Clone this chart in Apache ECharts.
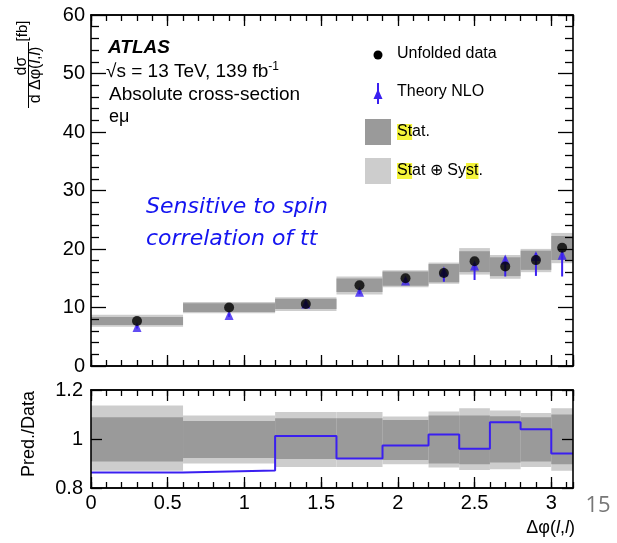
<!DOCTYPE html>
<html>
<head>
<meta charset="utf-8">
<script src="https://cdn.jsdelivr.net/npm/echarts@6/dist/echarts.min.js"></script>
<style>
html,body{margin:0;padding:0;background:#fff;}
#c{width:617px;height:543px;}
</style>
</head>
<body>
<div id="c"></div>
<script>
// ---- Data ----
const binEdges = [0, 0.6, 1.2, 1.6, 1.9, 2.2, 2.4, 2.6, 2.8, 3.0, Math.PI];
const unfoldedData = [7.7, 10.0, 10.6, 13.8, 15.0, 15.9, 17.9, 17.0, 18.1, 20.2];
const theoryNLO = [6.65, 8.7, 10.7, 12.7, 14.6, 16.2, 17.2, 18.2, 18.8, 19.0];
const theoryLow = [6.4, 8.4, 10.3, 12.3, 14.2, 14.4, 14.7, 15.3, 15.4, 15.3];
const theoryHigh = [6.9, 9.0, 11.0, 13.0, 15.0, 16.5, 17.6, 18.7, 19.3, 19.6];
const ratioPred = [0.863, 0.871, 1.012, 0.920, 0.973, 1.018, 0.960, 1.068, 1.040, 0.941];
const statLow = [0.908, 0.922, 0.918, 0.918, 0.914, 0.900, 0.897, 0.904, 0.908, 0.897];
const statHigh = [1.089, 1.073, 1.085, 1.085, 1.078, 1.096, 1.096, 1.093, 1.089, 1.100];
const totLow = [0.870, 0.900, 0.886, 0.886, 0.897, 0.884, 0.873, 0.877, 0.886, 0.870];
const totHigh = [1.137, 1.096, 1.110, 1.110, 1.092, 1.112, 1.126, 1.116, 1.106, 1.126];
const topYTicks = [0, 60, 10];      // min, max, interval
const ratioYTicks = [0.8, 1.2, 0.2];

// ---- derived tables ----
const nb = unfoldedData.length;
const idx = Array.from({length: nb}, (_, i) => i);
const centers = idx.map(i => (binEdges[i] + binEdges[i + 1]) / 2);
const topTot = idx.map(i => [binEdges[i], binEdges[i + 1], unfoldedData[i] * totLow[i], unfoldedData[i] * totHigh[i]]);
const topStat = idx.map(i => [binEdges[i], binEdges[i + 1], unfoldedData[i] * statLow[i], unfoldedData[i] * statHigh[i]]);
const ratTot = idx.map(i => [binEdges[i], binEdges[i + 1], totLow[i], totHigh[i]]);
const ratStat = idx.map(i => [binEdges[i], binEdges[i + 1], statLow[i], statHigh[i]]);
const theoryBars = idx.map(i => [centers[i], theoryLow[i], theoryHigh[i]]);
const stepLine = idx.map(i => [binEdges[i], ratioPred[i]]).concat([[binEdges[nb], ratioPred[nb - 1]]]);

const FONT = 'Liberation Sans, Arial, Helvetica, sans-serif';
const BLUE = '#3a1ff0';

function rectItem(color) {
  return function (params, api) {
    const p0 = api.coord([api.value(0), api.value(3)]);
    const p1 = api.coord([api.value(1), api.value(2)]);
    const shape = echarts.graphic.clipRectByRect(
      {x: p0[0], y: p0[1], width: p1[0] - p0[0], height: p1[1] - p0[1]},
      {x: params.coordSys.x, y: params.coordSys.y, width: params.coordSys.width, height: params.coordSys.height});
    return shape && {type: 'rect', shape: shape, style: {fill: color}};
  };
}

const tickStyle = {color: '#000', width: 1.3};
function xAx(grid, pos, interval, len, labels) {
  return {
    type: 'value', gridIndex: grid, position: pos, min: 0, max: Math.PI, interval: interval, z: 10,
    axisLine: {show: true, onZero: false, lineStyle: {color: '#000', width: 1.6}},
    axisTick: {show: true, inside: true, length: len, lineStyle: tickStyle},
    axisLabel: labels ? {show: true, color: '#000', fontFamily: FONT, fontSize: 20, margin: 5,
      showMinLabel: true, showMaxLabel: false, formatter: v => String(+v.toFixed(1))} : {show: false},
    splitLine: {show: false}, minorTick: {show: false}
  };
}

const gridRects = {
  top: {left: 91, top: 15, width: 482, height: 351},
  bot: {left: 91, top: 390, width: 482, height: 98}
};
function grid(r) { return Object.assign({containLabel: false, outerBoundsMode: 'none', show: false}, r); }

const option = {
  animation: false,
  backgroundColor: '#fff',
  grid: [grid(gridRects.top), grid(gridRects.top), grid(gridRects.bot), grid(gridRects.bot)],
  xAxis: [
    xAx(0, 'bottom', 0.5, 11, false),
    xAx(0, 'top', 0.5, 11, false),
    xAx(1, 'bottom', 0.1, 6, false),
    xAx(1, 'top', 0.1, 6, false),
    xAx(2, 'bottom', 0.5, 11, true),
    xAx(2, 'top', 0.5, 11, false),
    xAx(3, 'bottom', 0.1, 6, false),
    xAx(3, 'top', 0.1, 6, false)
  ],
  yAxis: [
    {type: 'value', gridIndex: 0, position: 'left', min: topYTicks[0], max: topYTicks[1], interval: topYTicks[2], z: 10,
     axisLine: {show: true, onZero: false, lineStyle: {color: '#000', width: 1.6}},
     axisTick: {show: true, inside: true, length: 15, lineStyle: tickStyle},
     minorTick: {show: true, splitNumber: 5, length: 8, lineStyle: tickStyle},
     axisLabel: {color: '#000', fontFamily: FONT, fontSize: 20, margin: 6},
     splitLine: {show: false}, minorSplitLine: {show: false}},
    {type: 'value', gridIndex: 0, position: 'right', min: topYTicks[0], max: topYTicks[1], interval: topYTicks[2], z: 10,
     axisLine: {show: true, onZero: false, lineStyle: {color: '#000', width: 1.6}},
     axisTick: {show: true, inside: true, length: 15, lineStyle: tickStyle},
     minorTick: {show: true, splitNumber: 5, length: 8, lineStyle: tickStyle},
     axisLabel: {show: false}, splitLine: {show: false}},
    {type: 'value', gridIndex: 1, min: topYTicks[0], max: topYTicks[1], show: false},
    {type: 'value', gridIndex: 2, position: 'left', min: ratioYTicks[0], max: ratioYTicks[1], interval: ratioYTicks[2], z: 10,
     axisLine: {show: true, onZero: false, lineStyle: {color: '#000', width: 1.6}},
     axisTick: {show: true, inside: true, length: 11, lineStyle: tickStyle},
     axisLabel: {color: '#000', fontFamily: FONT, fontSize: 20, margin: 8,
       formatter: v => Math.abs(v - 1) < 1e-6 ? '1' : (+v).toFixed(1)},
     splitLine: {show: false}},
    {type: 'value', gridIndex: 2, position: 'right', min: ratioYTicks[0], max: ratioYTicks[1], interval: ratioYTicks[2], z: 10,
     axisLine: {show: true, onZero: false, lineStyle: {color: '#000', width: 1.6}},
     axisTick: {show: true, inside: true, length: 11, lineStyle: tickStyle},
     axisLabel: {show: false}, splitLine: {show: false}},
    {type: 'value', gridIndex: 3, min: ratioYTicks[0], max: ratioYTicks[1], show: false}
  ],
  series: [
    {type: 'custom', name: 'Stat+Syst', xAxisIndex: 0, yAxisIndex: 0, data: topTot, renderItem: rectItem('#cdcdcd'), z: 1, silent: true},
    {type: 'custom', name: 'Stat', xAxisIndex: 0, yAxisIndex: 0, data: topStat, renderItem: rectItem('#9a9a9a'), z: 2, silent: true},
    {type: 'custom', name: 'TheoryErr', xAxisIndex: 0, yAxisIndex: 0, data: theoryBars, z: 3, silent: true,
     renderItem: function (params, api) {
       const a = api.coord([api.value(0), api.value(1)]);
       const b = api.coord([api.value(0), api.value(2)]);
       return {type: 'line', shape: {x1: a[0], y1: a[1], x2: b[0], y2: b[1]}, style: {stroke: BLUE, lineWidth: 2}};
     }},
    {type: 'scatter', name: 'Theory NLO', xAxisIndex: 0, yAxisIndex: 0, symbol: 'triangle', symbolSize: [9, 10],
     itemStyle: {color: BLUE}, z: 4, data: idx.map(i => [centers[i], theoryNLO[i]])},
    {type: 'scatter', name: 'Unfolded data', xAxisIndex: 0, yAxisIndex: 0, symbol: 'circle', symbolSize: 10,
     itemStyle: {color: '#000'}, z: 5, data: idx.map(i => [centers[i], unfoldedData[i]])},
    {type: 'custom', xAxisIndex: 4, yAxisIndex: 3, data: ratTot, renderItem: rectItem('#cdcdcd'), z: 1, silent: true},
    {type: 'custom', xAxisIndex: 4, yAxisIndex: 3, data: ratStat, renderItem: rectItem('#9a9a9a'), z: 2, silent: true},
    {type: 'line', xAxisIndex: 4, yAxisIndex: 3, data: stepLine, step: 'end', symbol: 'none',
     lineStyle: {color: BLUE, width: 2}, z: 3, silent: true}
  ],
  graphic: [
    // ATLAS block
    {type: 'text', left: 108, top: 38, style: {text: 'ATLAS', font: 'italic bold 19px ' + FONT, fill: '#000'}},
    {type: 'text', left: 106, top: 61, style: {
      text: '√s = 13 TeV, 139 fb{sup|-1}', font: '19px ' + FONT, fill: '#000',
      rich: {sup: {fontSize: 12, fontFamily: FONT, padding: [0, 0, 10, 0], fill: '#000'}}}},
    {type: 'text', left: 109, top: 85, style: {text: 'Absolute cross-section', font: '19px ' + FONT, fill: '#000'}},
    {type: 'text', left: 109, top: 108, style: {text: 'eμ', font: '18px ' + FONT, fill: '#000'}},
    // legend
    {type: 'circle', shape: {cx: 378, cy: 55, r: 4.5}, style: {fill: '#000'}},
    {type: 'text', left: 397, top: 46, style: {text: 'Unfolded data', font: '16px ' + FONT, fill: '#000'}},
    {type: 'line', shape: {x1: 378, y1: 83, x2: 378, y2: 104}, style: {stroke: BLUE, lineWidth: 2}},
    {type: 'polygon', shape: {points: [[378, 89], [373.5, 99], [382.5, 99]]}, style: {fill: BLUE}},
    {type: 'text', left: 397, top: 84, style: {text: 'Theory NLO', font: '16px ' + FONT, fill: '#000'}},
    {type: 'rect', shape: {x: 365, y: 119, width: 26, height: 26}, style: {fill: '#9a9a9a'}},
    {type: 'text', left: 397, top: 124, style: {
      text: '{h|St}{n|at.}', rich: {
        h: {fontSize: 16, fontFamily: FONT, fill: '#000', backgroundColor: '#f4f43a'},
        n: {fontSize: 16, fontFamily: FONT, fill: '#000'}}}},
    {type: 'rect', shape: {x: 365, y: 158, width: 26, height: 26}, style: {fill: '#cdcdcd'}},
    {type: 'text', left: 397, top: 163, style: {
      text: '{h|St}{n|at ⊕ Sy}{h|st}{n|.}', rich: {
        h: {fontSize: 16, fontFamily: FONT, fill: '#000', backgroundColor: '#f4f43a'},
        n: {fontSize: 16, fontFamily: FONT, fill: '#000'}}}},
    // annotation
    {type: 'text', left: 146, top: 196, style: {text: 'Sensitive to spin', font: 'italic 22px "DejaVu Sans", sans-serif', fill: '#1414f0'}},
    {type: 'text', left: 146, top: 228, style: {text: 'correlation of tt', font: 'italic 22px "DejaVu Sans", sans-serif', fill: '#1414f0'}},
    // y-axis title (top)
    {type: 'text', x: 22, y: 66, rotation: Math.PI / 2, style: {text: 'dσ', font: '16px ' + FONT, fill: '#000', align: 'center', verticalAlign: 'middle'}},
    {type: 'line', shape: {x1: 28.5, y1: 42, x2: 28.5, y2: 108}, style: {stroke: '#000', lineWidth: 1}},
    {type: 'text', x: 36, y: 75, rotation: Math.PI / 2, style: {
      text: 'd Δφ({i|l},{i|l})', font: '16px ' + FONT, fill: '#000', align: 'center', verticalAlign: 'middle',
      rich: {i: {fontSize: 16, fontFamily: FONT, fontStyle: 'italic', fill: '#000'}}}},
    {type: 'text', x: 23, y: 31, rotation: Math.PI / 2, style: {text: '[fb]', font: '15px ' + FONT, fill: '#000', align: 'center', verticalAlign: 'middle'}},
    // ratio y title
    {type: 'text', x: 29, y: 434, rotation: Math.PI / 2, style: {text: 'Pred./Data', font: '18px ' + FONT, fill: '#000', align: 'center', verticalAlign: 'middle'}},
    // x title
    {type: 'text', x: 575, y: 528, style: {
      text: 'Δφ({i|l},{i|l})', font: '18px ' + FONT, fill: '#000', align: 'right', verticalAlign: 'middle',
      rich: {i: {fontSize: 18, fontFamily: FONT, fontStyle: 'italic', fill: '#000'}}}},
    // page number
    {type: 'text', x: 598, y: 506, style: {text: '15', font: '22px "Open Sans", Lato, sans-serif', fill: '#777777', align: 'center', verticalAlign: 'middle'}}
  ]
};

const chart = echarts.init(document.getElementById('c'), null, {renderer: 'canvas'});
chart.setOption(option);
</script>
</body>
</html>
